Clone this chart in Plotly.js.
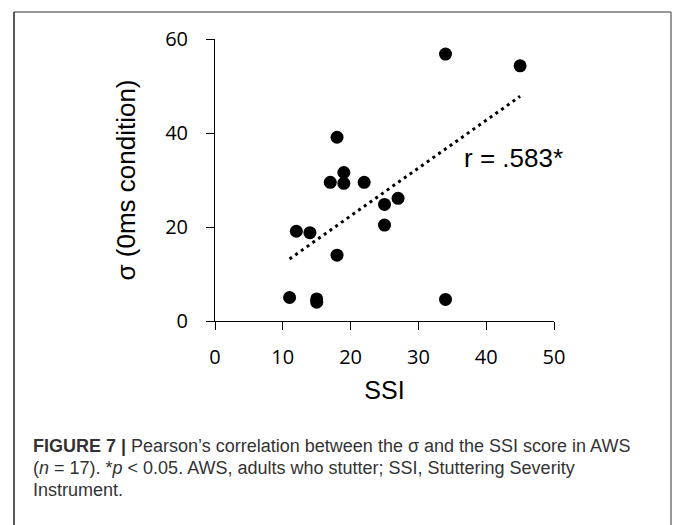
<!DOCTYPE html>
<html>
<head>
<meta charset="utf-8">
<script src="https://cdn.plot.ly/plotly-3.0.1.min.js"></script>
<style>
  html, body { margin: 0; padding: 0; background: #fff; }
  #chart { width: 673px; height: 525px; }
</style>
</head>
<body>
<div id="chart"></div>
<script>
// Data
const ssi   = [34, 45, 18, 19, 17, 19, 22, 27, 25, 25, 12, 14, 18, 11, 15, 15, 34];
const sigma = [56.8, 54.3, 39.1, 31.6, 29.5, 29.3, 29.5, 26.1, 24.8, 20.4, 19.1, 18.8, 14.0, 5.0, 4.7, 4.0, 4.6];
const trendX = [11, 45];
const trendY = [13.2, 47.8];
const xTicks = [0, 10, 20, 30, 40, 50];
const yTicks = [0, 20, 40, 60];
const rLabel = 'r = .583*';
const xTitle = 'SSI';
const yTitle = 'σ (0ms condition)';
const captionLines = [
  '<b>FIGURE 7 |</b> Pearson’s correlation between the σ and the SSI score in AWS',
  '(<i>n</i> = 17). *<i>p</i> &lt; 0.05. AWS, adults who stutter; SSI, Stuttering Severity',
  'Instrument.'
];
const captionY = [-0.4433, -0.5213, -0.5993];

const traces = [
  {
    x: trendX, y: trendY, type: 'scatter', mode: 'lines',
    line: { color: '#000', width: 3, dash: '3px,4px' },
    hoverinfo: 'skip', showlegend: false
  },
  {
    x: ssi, y: sigma, type: 'scatter', mode: 'markers',
    marker: { color: '#000', size: 13 },
    cliponaxis: false, showlegend: false
  }
];

const annotations = [
  {
    x: 36.4, y: 34.7, xref: 'x', yref: 'y', xanchor: 'left', yanchor: 'middle',
    text: rLabel, showarrow: false,
    font: { family: 'Liberation Sans, Arial, sans-serif', size: 26, color: '#000' }
  }
].concat(captionLines.map((t, i) => ({
  x: -0.5428, y: captionY[i], xref: 'paper', yref: 'paper', xanchor: 'left', yanchor: 'middle',
  text: t, showarrow: false, align: 'left',
  font: { family: 'Liberation Sans, Arial, sans-serif', size: 18, color: '#333' }
})));

const layout = {
  width: 673, height: 525,
  margin: { l: 215, r: 119, t: 39, b: 204 },
  paper_bgcolor: '#fff', plot_bgcolor: '#fff',
  showlegend: false,
  xaxis: {
    range: [0, 50], tickvals: xTicks, ticktext: xTicks.map(String),
    showgrid: false, zeroline: false, showline: true, linecolor: '#000', linewidth: 1,
    ticks: 'outside', ticklen: 8, tickwidth: 1, tickcolor: '#000',
    ticklabelstandoff: 10,
    tickfont: { family: 'Open Sans, sans-serif', size: 20, color: '#000' },
    title: { text: xTitle, standoff: 12, font: { family: 'Liberation Sans, Arial, sans-serif', size: 25, color: '#000' } },
    fixedrange: true
  },
  yaxis: {
    range: [0, 60], tickvals: yTicks, ticktext: yTicks.map(String),
    showgrid: false, zeroline: false, showline: true, linecolor: '#000', linewidth: 1,
    ticks: 'outside', ticklen: 8, tickwidth: 1, tickcolor: '#000',
    ticklabelstandoff: 14,
    tickfont: { family: 'Open Sans, sans-serif', size: 20, color: '#000' },
    title: { text: yTitle, standoff: 22, font: { family: 'Liberation Sans, Arial, sans-serif', size: 26, color: '#000' } },
    fixedrange: true
  },
  annotations: annotations,
  shapes: [
    { type: 'line', xref: 'paper', yref: 'paper', x0: -0.5929, x1: 1.3451, y0: 1.0957, y1: 1.0957, line: { color: '#777', width: 1.5 } },
    { type: 'line', xref: 'paper', yref: 'paper', x0: -0.5929, x1: -0.5929, y0: 1.0957, y1: -0.75, line: { color: '#222', width: 1.5 } },
    { type: 'line', xref: 'paper', yref: 'paper', x0: 1.3451, x1: 1.3451, y0: 1.0957, y1: -0.75, line: { color: '#777', width: 1.5 } }
  ]
};

Plotly.newPlot('chart', traces, layout, { displayModeBar: false, staticPlot: true });
</script>
</body>
</html>
